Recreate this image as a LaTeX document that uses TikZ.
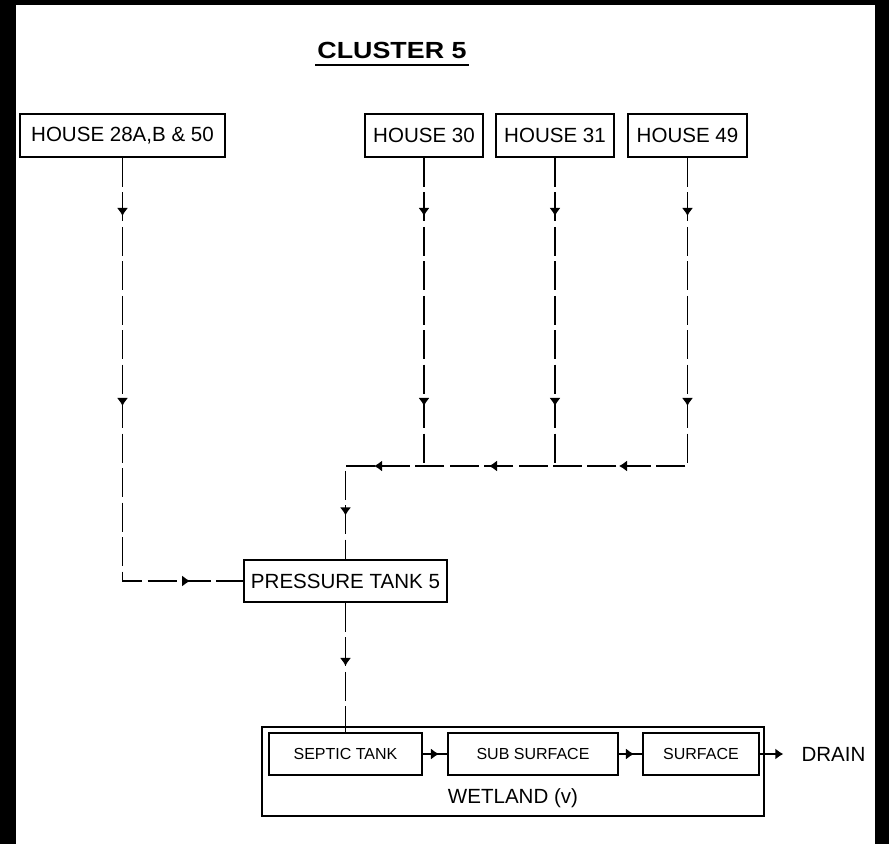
\documentclass[tikz,border=0pt]{standalone}
\usepackage{fontspec}
\setmainfont{Liberation Sans}
\usepackage{graphicx}
\usetikzlibrary{arrows.meta,decorations.markings}
\begin{document}
\begin{tikzpicture}[x=0.75pt,y=-0.75pt,
  box/.style={draw,line width=1.4pt,inner sep=0pt,font=\fontsize{15.4pt}{18pt}\selectfont},
  smallbox/.style={draw,line width=1.4pt,inner sep=0pt,minimum height=31.5pt,font=\fontsize{12pt}{14pt}\selectfont},
  plain/.style={inner sep=0pt,font=\fontsize{15.4pt}{18pt}\selectfont},
  flow/.style={line width=1.4pt,dash pattern=on 21.75pt off 4.1pt},
  solidflow/.style={line width=1.4pt},
  tipmarks/.style={postaction={decorate,decoration={markings,#1}}},
  >={Latex[length=6pt,width=8.5pt]}
]
% background and margins
\fill[black] (0,0) rectangle (889,844);
\fill[white] (16,5) rectangle (875,844);

% title
\node[inner sep=0pt,anchor=base,font=\fontsize{17.5pt}{20pt}\selectfont\bfseries] (title) at (392,58) {\scalebox{1.15}[1]{CLUSTER 5}};
\draw[line width=1.5pt] ([xshift=-1.5pt,yshift=-4.5pt]title.south west) -- ([xshift=1.5pt,yshift=-4.5pt]title.south east);

% houses
\node[box,minimum width=153.75pt,minimum height=32.25pt] (h28) at (122.5,135.5) {HOUSE 28A,B \& 50};
\node[box,minimum width=88.5pt,minimum height=32.25pt] (h30) at (424,135.5) {HOUSE 30};
\node[box,minimum width=88.5pt,minimum height=32.25pt] (h31) at (555,135.5) {HOUSE 31};
\node[box,minimum width=89.25pt,minimum height=32.25pt] (h49) at (687.5,135.5) {HOUSE 49};

% pressure tank
\node[box,minimum width=152.25pt,minimum height=31.5pt] (tank) at (345.5,581) {PRESSURE TANK 5};

% wetland
\node[draw,line width=1.4pt,inner sep=0pt,minimum width=376.5pt,minimum height=66.75pt] (wet) at (513,771.5) {};
\node[plain] (wetlbl) at (513,798) {WETLAND (v)};
\node[smallbox,minimum width=114.75pt] (septic) at (345.5,754) {SEPTIC TANK};
\node[smallbox,minimum width=127.5pt] (sub) at (533,754) {SUB SURFACE};
\node[smallbox,minimum width=87pt] (surf) at (701,754) {SURFACE};
\node[plain,inner xsep=13.5pt] (drain) at (833.5,754) {DRAIN};

% junction on the collector line
\coordinate (j) at (345.5,466);

% connectors
\draw[flow,tipmarks={mark=at position 43.5pt with {\arrow{>}},mark=at position 186pt with {\arrow{>}},mark=at position 368pt with {\arrow{>}}}]
  (h28.south) |- (tank.west);
\draw[flow,tipmarks={mark=at position 43.5pt with {\arrow{>}},mark=at position 186pt with {\arrow{>}}}]
  (h30.south) -- (h30.south |- j);
\draw[flow,tipmarks={mark=at position 43.5pt with {\arrow{>}},mark=at position 186pt with {\arrow{>}}}]
  (h31.south) -- (h31.south |- j);
\draw[flow,tipmarks={mark=at position 43.5pt with {\arrow{>}},mark=at position 186pt with {\arrow{>}},mark=at position 282.4pt with {\arrow{>}},mark=at position 379.9pt with {\arrow{>}},mark=at position 466.1pt with {\arrow{>}},mark=at position 524.6pt with {\arrow{>}}}]
  (h49.south) |- (j) -- (tank.north);
\draw[flow,tipmarks={mark=at position 47.25pt with {\arrow{>}}}]
  (tank.south) -- (septic.north);
\draw[solidflow,tipmarks={mark=at position 12pt with {\arrow{>}}}] (septic.east) -- (sub.west);
\draw[solidflow,tipmarks={mark=at position 11.25pt with {\arrow{>}}}] (sub.east) -- (surf.west);
\draw[solidflow,->] (surf.east) -- (drain.west);
\end{tikzpicture}
\end{document}
